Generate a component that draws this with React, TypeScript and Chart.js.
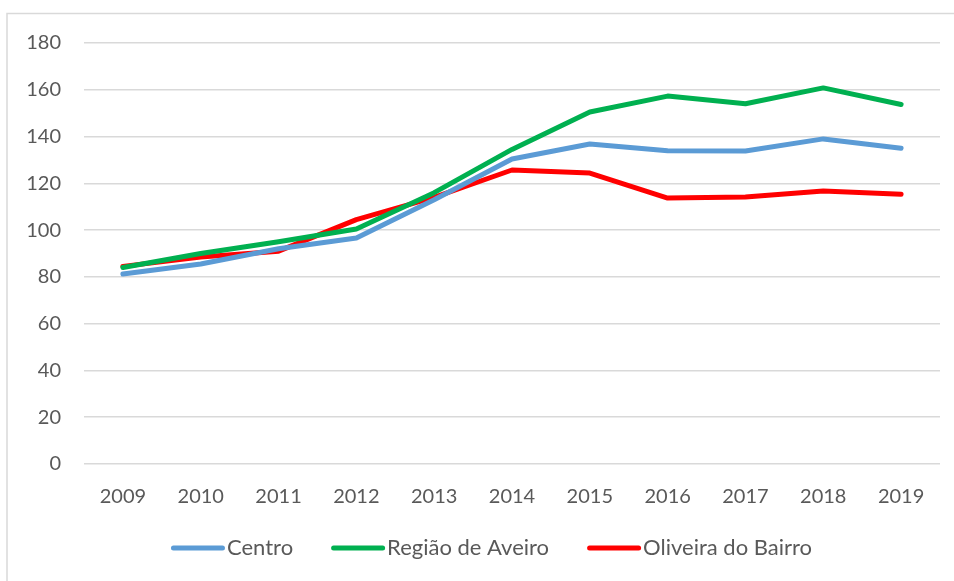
import React, { useEffect, useRef } from "react";
import { Chart, registerables } from "chart.js";

Chart.register(...registerables);

const years = ["2009", "2010", "2011", "2012", "2013", "2014", "2015", "2016", "2017", "2018", "2019"];
const centro = [81.2, 85.5, 92, 96.6, 113, 130.4, 136.8, 133.9, 133.8, 139, 135];
const regiaoAveiro = [84, 90, 95, 100.5, 116, 134.5, 150.5, 157.3, 154, 160.8, 153.7];
const oliveiraBairro = [84.5, 88.5, 91, 104.5, 114, 125.7, 124.4, 113.7, 114.2, 116.7, 115.3];
const yTicks = [0, 20, 40, 60, 80, 100, 120, 140, 160, 180];

const FONT = "Lato, 'Open Sans', sans-serif";
const TEXT = "#595959";
const GRID = "#d9d9d9";

const borderPlugin = {
  id: "outerBorder",
  beforeDraw(chart: any) {
    const ctx = chart.ctx;
    ctx.save();
    ctx.strokeStyle = GRID;
    ctx.lineWidth = 1.5;
    ctx.strokeRect(7, 13.5, chart.width + 20, chart.height + 20);
    ctx.restore();
  },
};

const legendPlugin = {
  id: "lineLegend",
  afterDraw(chart: any) {
    const ctx = chart.ctx;
    ctx.save();
    ctx.font = `22px ${FONT}`;
    const lineLen = 54;
    const gapText = 2;
    const gapItem = 38;
    const items = chart.data.datasets.map((d: any) => ({
      label: d.label,
      color: d.borderColor,
      w: ctx.measureText(d.label).width,
    }));
    let total = 0;
    items.forEach((it: any, i: number) => {
      total += lineLen + gapText + it.w + (i < items.length - 1 ? gapItem : 0);
    });
    const cy = 548;
    let x = 491.5 - total / 2;
    items.forEach((it: any) => {
      ctx.strokeStyle = it.color;
      ctx.lineWidth = 5;
      ctx.lineCap = "round";
      ctx.beginPath();
      ctx.moveTo(x + 2.5, cy);
      ctx.lineTo(x + lineLen - 2.5, cy);
      ctx.stroke();
      ctx.fillStyle = TEXT;
      ctx.textBaseline = "middle";
      ctx.textAlign = "left";
      ctx.fillText(it.label, x + lineLen + gapText, cy);
      x += lineLen + gapText + it.w + gapItem;
    });
    ctx.restore();
  },
};

export default function App() {
  const ref = useRef<HTMLCanvasElement | null>(null);
  useEffect(() => {
    document.body.style.margin = "0";
    const canvas = ref.current;
    if (!canvas) return;
    const mk = (label: string, data: number[], color: string) => ({
      label,
      data,
      borderColor: color,
      backgroundColor: color,
      borderWidth: 5,
      borderCapStyle: "round" as const,
      borderJoinStyle: "round" as const,
      pointRadius: 0,
      pointHoverRadius: 0,
      tension: 0,
      fill: false,
    });
    const chart = new Chart(canvas, {
      type: "line",
      data: {
        labels: years,
        datasets: [
          mk("Centro", centro, "#5b9bd5"),
          mk("Região de Aveiro", regiaoAveiro, "#00b050"),
          mk("Oliveira do Bairro", oliveiraBairro, "#ff0000"),
        ],
      },
      plugins: [borderPlugin, legendPlugin],
      options: {
        animation: false,
        responsive: false,
        maintainAspectRatio: false,
        layout: { padding: { left: 0, right: 14, top: 43, bottom: 67 } },
        plugins: {
          tooltip: { enabled: false },
          legend: { display: false },
        },
        scales: {
          x: {
            offset: true,
            grid: { display: false, drawTicks: false },
            border: { display: false },
            ticks: { color: TEXT, font: { family: FONT, size: 20 }, padding: 21, maxRotation: 0 },
            afterFit(scale: any) {
              scale.height = 50;
            },
          },
          y: {
            min: 0,
            max: 180,
            afterBuildTicks(scale: any) {
              scale.ticks = yTicks.map((v) => ({ value: v }));
            },
            grid: { color: GRID, lineWidth: 1.5, drawTicks: false },
            border: { display: false },
            ticks: { color: TEXT, font: { family: FONT, size: 20 }, padding: 23 },
            afterFit(scale: any) {
              scale.width = 84;
            },
          },
        },
      },
    });
    return () => chart.destroy();
  }, []);
  return <canvas ref={ref} width={954} height={581} style={{ display: "block" }} />;
}
